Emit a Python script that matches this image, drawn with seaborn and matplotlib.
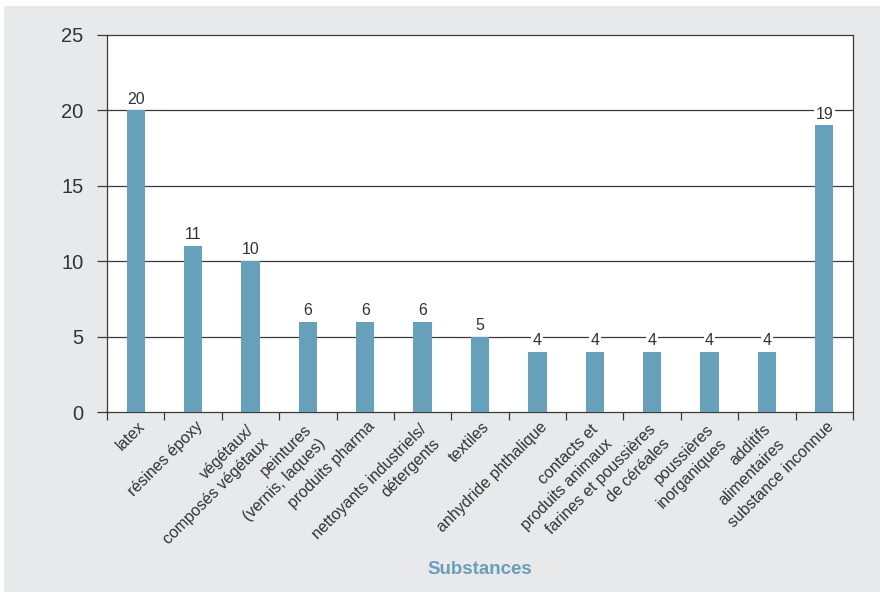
import matplotlib
matplotlib.use("Agg")
import matplotlib.pyplot as plt
import matplotlib.transforms as mtransforms
from matplotlib.patches import Rectangle
import seaborn as sns
import pandas as pd

categories = [
    "latex",
    "résines époxy",
    "végétaux/\ncomposés végétaux",
    "peintures\n(vernis, laques)",
    "produits pharma",
    "nettoyants industriels/\ndétergents",
    "textiles",
    "anhydride phthalique",
    "contacts et\nproduits animaux",
    "farines et poussières\nde céréales",
    "poussières\ninorganiques",
    "additifs\nalimentaires",
    "substance inconnue",
]
values = [20, 11, 10, 6, 6, 6, 5, 4, 4, 4, 4, 4, 19]
yticks = [0, 5, 10, 15, 20, 25]
xlabel = "Substances"

sns.set_theme(style="white")
plt.rcParams["font.family"] = ["Liberation Sans", "DejaVu Sans"]

TXT = "#333333"
BAR = "#67a0ba"
BG = "#e8e9eb"
LINE = "#3a3a3a"

fig = plt.figure(figsize=(8.8, 5.92), dpi=100)
fig.patch.set_facecolor("white")
fig.patches.append(Rectangle((4 / 880, 0), 1, 1 - 6 / 592, transform=fig.transFigure,
                             facecolor=BG, edgecolor="none", zorder=-10))

ax = fig.add_axes([107 / 880, 1 - 412 / 592, (853 - 107) / 880, (412 - 35) / 592])
ax.set_facecolor("white")

df = pd.DataFrame({"cat": categories, "val": values})
sns.barplot(data=df, x="cat", y="val", color=BAR, saturation=1, width=0.32, ax=ax,
            zorder=3, linewidth=0, edgecolor="none")

ax.set_ylim(0, 25)
ax.set_xlim(-0.5, len(categories) - 0.5)
ax.set_yticks(yticks)
ax.set_yticklabels([str(t) for t in yticks], fontsize=14.5, color=TXT)
for y in yticks[1:-1]:
    ax.axhline(y, color=LINE, lw=0.9, zorder=1)

# value labels
for i, v in enumerate(values):
    ax.text(i, v + 0.25, str(v), ha="center", va="bottom", fontsize=11.5, color=TXT, zorder=5,
            bbox=dict(facecolor="white", edgecolor="none", pad=1))

# x ticks at boundaries, labels rotated
ax.set_xticks([i - 0.5 for i in range(len(categories) + 1)], minor=False)
ax.set_xticklabels([""] * (len(categories) + 1))
ax.tick_params(axis="x", which="major", bottom=True, direction="out", length=6, width=0.9, color=LINE)
ax.tick_params(axis="y", which="major", left=True, direction="out", length=7, width=0.9, color=LINE, pad=10)
ax.set_xticks(range(len(categories)), minor=True)
ax.tick_params(axis="x", which="minor", bottom=True, length=0, pad=5)
ax.set_xticklabels(categories, minor=True, rotation=45, ha="right", va="top",
                   rotation_mode="anchor", fontsize=11.5, color=TXT,
                   multialignment="right", linespacing=1.4)
for lab in ax.get_xticklabels(minor=True):
    if "\n" in lab.get_text():
        dx, dy = -4 / 100, -3 / 100
    else:
        dx, dy = 2 / 100, 0
    lab.set_transform(lab.get_transform() + mtransforms.ScaledTranslation(dx, dy, fig.dpi_scale_trans))

for s in ["left", "bottom", "right", "top"]:
    ax.spines[s].set_visible(True)
    ax.spines[s].set_color(LINE)
    ax.spines[s].set_linewidth(0.9)

ax.set_xlabel("")
ax.set_ylabel("")
fig.text(480 / 880, 1 - 570 / 592, xlabel, ha="center", va="center", fontsize=13.5,
         fontweight="bold", color="#6a9fba")

fig.savefig("out.png", dpi=100)
